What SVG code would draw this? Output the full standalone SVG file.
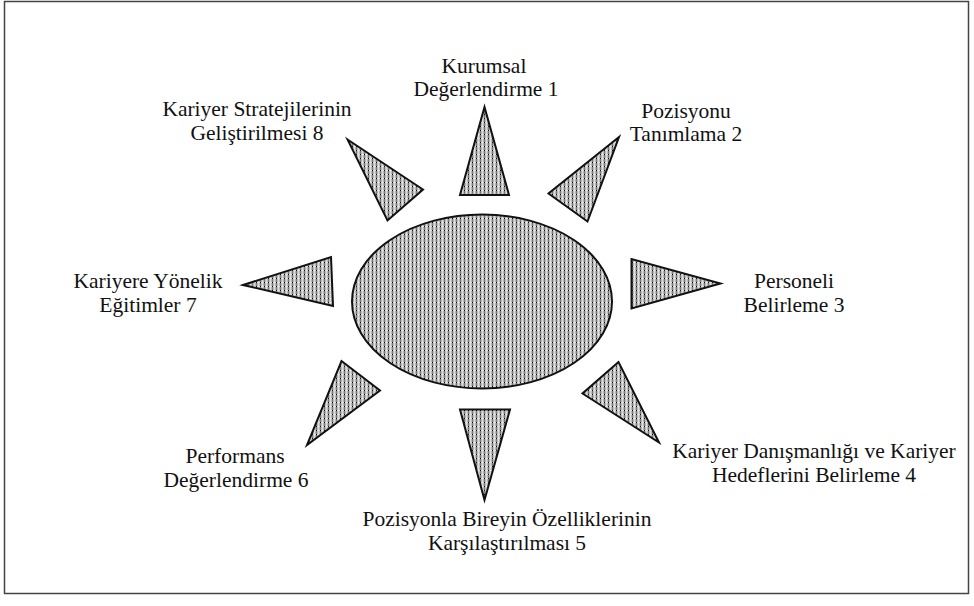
<svg xmlns="http://www.w3.org/2000/svg" width="974" height="606" viewBox="0 0 974 606">
<defs>
<pattern id="dots" width="4" height="4" patternUnits="userSpaceOnUse">
<rect width="4" height="4" fill="#b8b8b8"/>
<rect x="0" y="0" width="1" height="4" fill="#7a7a7a"/>
<rect x="2" y="0" width="1" height="4" fill="#dcdcdc"/>
<rect x="0" y="2" width="4" height="1" fill="#f0f0f0" opacity="0.6"/>
<rect x="0" y="2" width="1" height="1" fill="#111"/>
</pattern>
<style>
.sh{fill:url(#dots);stroke:#111;stroke-width:2;stroke-linejoin:miter}
.t{font-family:'Liberation Serif',serif;font-size:21.5px;fill:#111;text-anchor:middle}
</style>
</defs>
<rect x="0" y="0" width="974" height="606" fill="#fff"/>
<rect x="4.5" y="1.5" width="964" height="592" fill="none" stroke="#444" stroke-width="1.5"/>
<g id="connectors"></g>
<g id="center">
<ellipse class="sh" cx="482" cy="301.5" rx="130" ry="87"/>
</g>
<g id="n1">
<polygon class="sh" points="484.5,107 460,195 509,195"/>
<text class="t" x="484" y="73">Kurumsal</text>
<text class="t" x="486" y="96">Değerlendirme 1</text>
</g>
<g id="n2">
<polygon class="sh" points="619,137 548.5,193.5 587.5,221.5"/>
<text class="t" x="686" y="118">Pozisyonu</text>
<text class="t" x="686" y="141">Tanımlama 2</text>
</g>
<g id="n3">
<polygon class="sh" points="631.5,259 631.5,308.5 720.5,283.5"/>
<text class="t" x="794" y="288">Personeli</text>
<text class="t" x="794" y="312">Belirleme 3</text>
</g>
<g id="n4">
<polygon class="sh" points="618.5,362 582.5,393.5 659,442.5"/>
<text class="t" x="814" y="458">Kariyer Danışmanlığı ve Kariyer</text>
<text class="t" x="814" y="482">Hedeflerini Belirleme 4</text>
</g>
<g id="n5">
<polygon class="sh" points="460,409.5 510,409.5 484.5,500"/>
<text class="t" x="507" y="526">Pozisyonla Bireyin Özelliklerinin</text>
<text class="t" x="507" y="550">Karşılaştırılması 5</text>
</g>
<g id="n6">
<polygon class="sh" points="341.5,361 380,390.5 307,445"/>
<text class="t" x="235" y="463">Performans</text>
<text class="t" x="236" y="487">Değerlendirme 6</text>
</g>
<g id="n7">
<polygon class="sh" points="243,285 331,257 333,306"/>
<text class="t" x="148" y="288">Kariyere Yönelik</text>
<text class="t" x="148" y="312">Eğitimler 7</text>
</g>
<g id="n8">
<polygon class="sh" points="347.5,139.5 423,189.5 387.5,220.5"/>
<text class="t" x="257" y="116">Kariyer Stratejilerinin</text>
<text class="t" x="257" y="140">Geliştirilmesi 8</text>
</g>
</svg>
